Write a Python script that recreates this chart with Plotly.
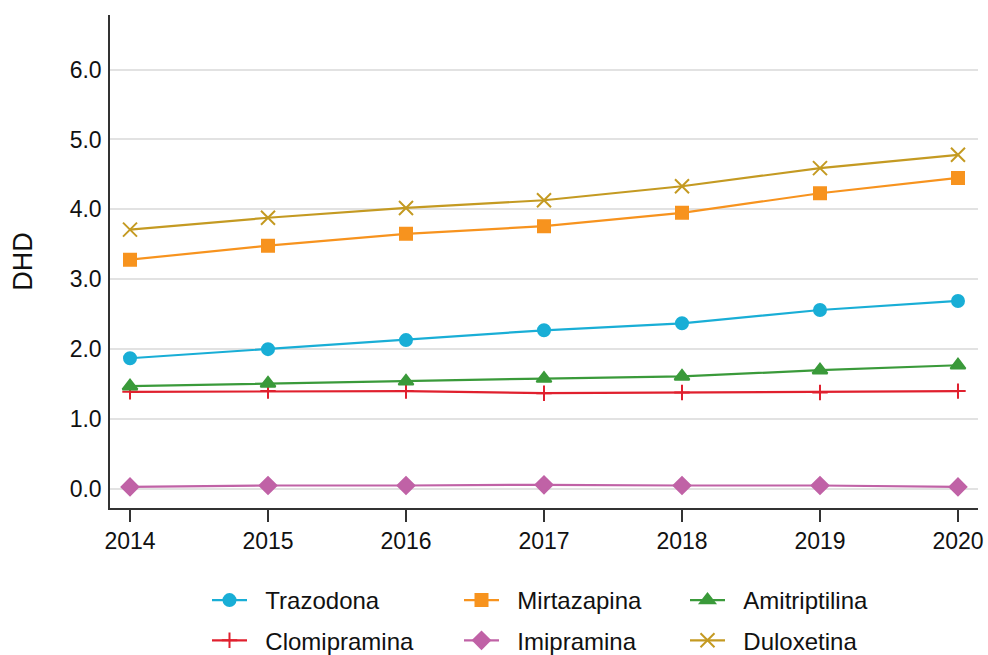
import plotly.graph_objects as go

years = [2014, 2015, 2016, 2017, 2018, 2019, 2020]
trazodona = [1.87, 2.00, 2.13, 2.27, 2.37, 2.56, 2.69]
mirtazapina = [3.28, 3.48, 3.65, 3.76, 3.95, 4.23, 4.45]
amitriptilina = [1.47, 1.51, 1.54, 1.58, 1.61, 1.70, 1.77]
clomipramina = [1.39, 1.40, 1.40, 1.37, 1.38, 1.38, 1.40]
imipramina = [0.03, 0.05, 0.05, 0.06, 0.05, 0.05, 0.03]
duloxetina = [3.71, 3.88, 4.02, 4.13, 4.33, 4.59, 4.78]

y_ticks = [0, 1, 2, 3, 4, 5, 6]
y_ticklabels = ["0.0", "1.0", "2.0", "3.0", "4.0", "5.0", "6.0"]

FONT = "Liberation Sans, Arial, sans-serif"
PAD = "\u00a0\u00a0"

series = [
    ("Trazodona", trazodona, "#19aed6", "circle", 12, "legend"),
    ("Clomipramina", clomipramina, "#e0202e", "cross-thin-open", 11, "legend"),
    ("Mirtazapina", mirtazapina, "#f7931e", "square", 12, "legend2"),
    ("Imipramina", imipramina, "#c062a6", "diamond", 13, "legend2"),
    ("Amitriptilina", amitriptilina, "#3a9a3a", "triangle-up", 13, "legend3"),
    ("Duloxetina", duloxetina, "#c49a22", "x-thin-open", 14, "legend3"),
]

fig = go.Figure()
for name, vals, color, sym, size, leg in series:
    fig.add_trace(go.Scatter(
        x=years, y=vals, name=PAD + name, mode="lines+markers",
        line=dict(color=color, width=2.2),
        marker=dict(symbol=sym, size=size, color=color,
                    line=dict(color=color, width=2)),
        legend=leg, legendgroup=name,
    ))

leg_common = dict(
    orientation="v", yanchor="top", xanchor="left",
    font=dict(family=FONT, size=24, color="#111111"),
    bgcolor="rgba(0,0,0,0)", tracegroupgap=6, itemwidth=35,
)
LY = (508 - 578) / 493
fig.update_layout(
    width=988, height=655,
    margin=dict(l=110, r=10, t=15, b=147, autoexpand=False),
    plot_bgcolor="white", paper_bgcolor="white",
    font=dict(family=FONT, size=23, color="#111111"),
    showlegend=True,
    legend=dict(x=(207 - 110) / 868, y=LY, **leg_common),
    legend2=dict(x=(459 - 110) / 868, y=LY, **leg_common),
    legend3=dict(x=(685 - 110) / 868, y=LY, **leg_common),
    xaxis=dict(
        range=[2013.855, 2020.145],
        tickmode="array", tickvals=years, ticktext=[str(y) for y in years],
        showgrid=False, zeroline=False,
        showline=True, linecolor="#333333", linewidth=1.5,
        ticks="outside", ticklen=12, tickwidth=1.5, tickcolor="#333333",
        tickfont=dict(family=FONT, size=23, color="#111111"),
        automargin=False,
    ),
    yaxis=dict(
        range=[-0.272, 6.78],
        tickmode="array", tickvals=y_ticks, ticktext=y_ticklabels,
        showgrid=True, gridcolor="#e2e2e2", gridwidth=2,
        zeroline=False,
        showline=True, linecolor="#333333", linewidth=1.5,
        ticks="", ticklabelstandoff=2,
        tickfont=dict(family=FONT, size=23, color="#111111"),
        title=dict(text="DHD", font=dict(family=FONT, size=27, color="#111111"), standoff=29),
        automargin=False,
    ),
)

fig.write_html("out.html",
               config={"displayModeBar": False},
               post_script="document.body.style.margin='0';document.body.style.overflow='hidden';")
